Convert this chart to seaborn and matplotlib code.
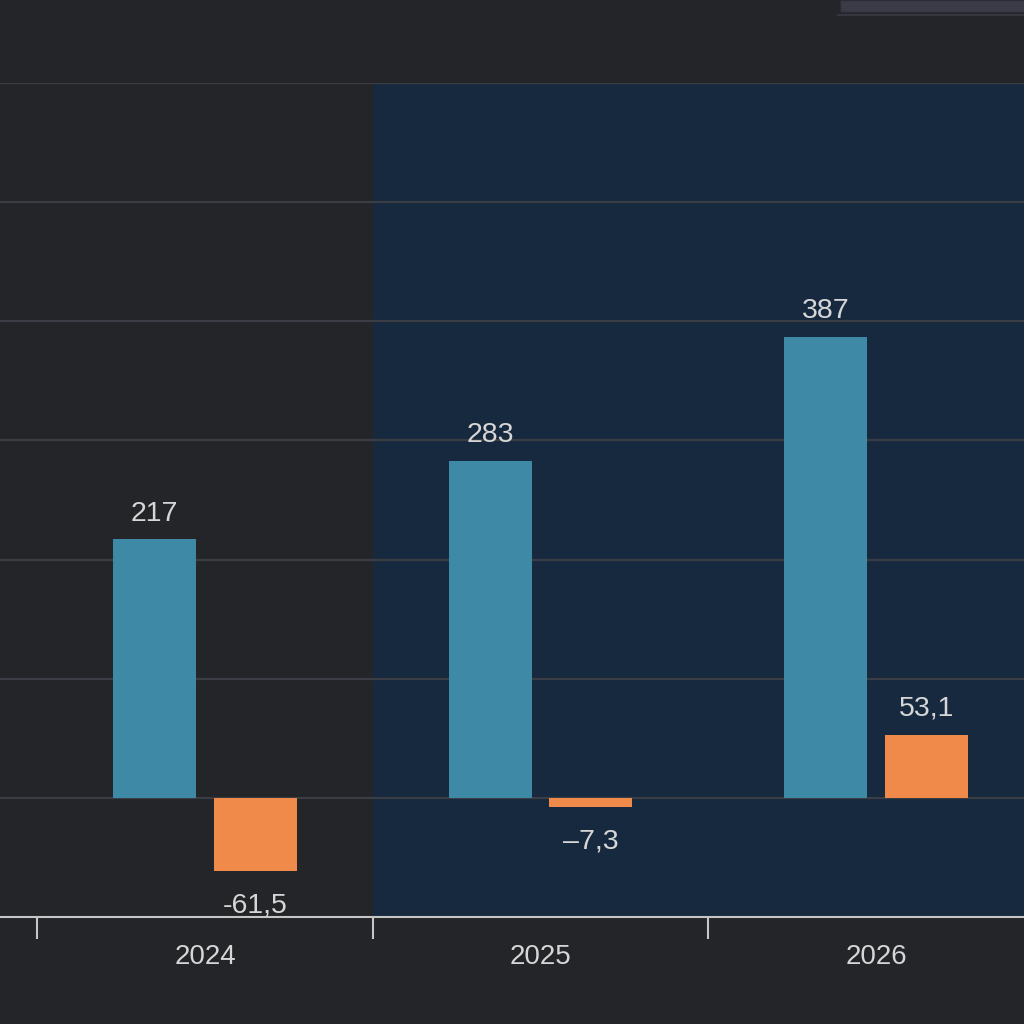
import matplotlib
matplotlib.use("Agg")
import matplotlib.pyplot as plt
from matplotlib.patches import Rectangle
from matplotlib.lines import Line2D
import seaborn as sns
import pandas as pd

years = ["2024", "2025", "2026"]
series_a = [217, 283, 387]
series_b = [-61.5, -7.3, 53.1]
labels_a = ["217", "283", "387"]
labels_b = ["-61,5", "\u20137,3", "53,1"]

BG = "#242528"
SHADE = "#17293f"
BLUE = "#3d89a6"
ORANGE = "#ef8a4a"
GRID = "#3b3d45"
TXT = "#d6d6d6"

sns.set_theme(style="dark")
plt.rcParams['font.family'] = ['Liberation Sans', 'DejaVu Sans']

df = pd.DataFrame({
    "year": years * 2,
    "value": series_a + series_b,
    "series": ["A"] * 3 + ["B"] * 3,
})

fig = plt.figure(figsize=(10.24, 10.24), dpi=100, facecolor=BG)
ax = fig.add_axes([0, 0.1045, 1, 0.8145])
ax.set_facecolor(BG)

sns.barplot(data=df, x="year", y="value", hue="series", order=years,
            hue_order=["A", "B"], palette=[BLUE, ORANGE], width=0.6, gap=0.175,
            linewidth=0, saturation=1, legend=False, ax=ax, zorder=3)

XMIN, XMAX = -0.611, 2.441
ax.axvspan(0.5, XMAX, color=SHADE, zorder=0, lw=0)

ax.set_yticks(range(0, 700, 100))
ax.set_yticklabels([])
ax.tick_params(axis="y", length=0)
ax.grid(axis="y", color=GRID, lw=1.6, zorder=1)
ax.grid(axis="x", visible=False)
ax.set_axisbelow(True)

ax.set_xticks(range(3))
ax.set_xticklabels(years)
ax.set_xticks([-0.5, 0.5, 1.5, 2.5], minor=True)
ax.tick_params(axis="x", which="major", length=0, pad=19.5, labelsize=20, labelcolor=TXT)
ax.tick_params(axis="x", which="minor", length=16, width=1.5, color="#c6c6c6", direction="out", bottom=True)
ax.set_xlabel("")
ax.set_ylabel("")

for s in ["top", "left", "right"]:
    ax.spines[s].set_visible(False)
ax.spines["bottom"].set_color("#c6c6c6")
ax.spines["bottom"].set_linewidth(1.5)

containers = ax.containers
for cont, labs in zip(containers, [labels_a, labels_b]):
    for bar, lab in zip(cont, labs):
        h = bar.get_height()
        xc = bar.get_x() + bar.get_width() / 2
        if h >= 0:
            ax.annotate(lab, (xc, h), xytext=(0, 18.5), textcoords="offset points",
                        ha="center", va="center", fontsize=20.5, color=TXT, zorder=5)
        else:
            ax.annotate(lab, (xc, h), xytext=(0, -25), textcoords="offset points",
                        ha="center", va="center", fontsize=20.5, color=TXT, zorder=5)

ax.set_xlim(XMIN, XMAX)
ax.set_ylim(-100, 600)

# partially visible legend box at top right
fig.patches.append(Rectangle((840 / 1024, 1 - 12 / 1024), 200 / 1024, 12 / 1024,
                             transform=fig.transFigure, facecolor="#3a3b47",
                             edgecolor="#2b2c33", lw=1.0))
fig.lines.append(Line2D([838 / 1024, 1], [1 - 15 / 1024, 1 - 15 / 1024],
                        transform=fig.transFigure, color="#35363f", lw=1.5))

fig.savefig("out.png", dpi=100, facecolor=BG)
